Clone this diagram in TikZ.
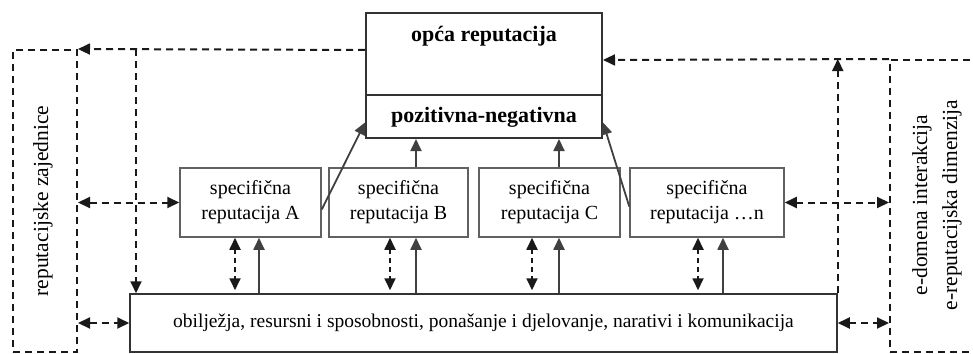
\documentclass[tikz,border=0pt]{standalone}
\usepackage{fontspec}
\setmainfont{Liberation Serif}
\usetikzlibrary{arrows.meta,calc}
\begin{document}
\begin{tikzpicture}[x=1pt,y=-1pt,
  box/.style={draw=black!62,line width=1.5pt,inner sep=0pt,align=center,
    font=\fontsize{20}{25}\selectfont},
  topbox/.style={draw=black!80,line width=2pt,inner sep=0pt},
  dbox/.style={draw=black!90,line width=2pt,dash pattern=on 7pt off 5pt,inner sep=0pt},
  dline/.style={draw=black!90,line width=2pt,dash pattern=on 7pt off 5pt},
  tip/.style={-{Triangle[length=12pt,width=11pt]}},
  dtip/.style={{Triangle[length=12pt,width=11pt]}-{Triangle[length=12pt,width=11pt]}},
  sarrow/.style={draw=black!75,line width=1.8pt,-{Triangle[length=12pt,width=11pt]}},
  lbl/.style={font=\fontsize{21.5}{30}\selectfont,align=center,inner sep=0pt},
  bold/.style={font=\fontsize{22}{24}\selectfont\bfseries,inner sep=0pt}
]
\useasboundingbox (0,0) rectangle (973,353);

% side dashed boxes
\node[dbox,minimum width=64pt,minimum height=302pt] (L) at (45,201) {};
\node[lbl,rotate=90] (Lt) at (43,201) {reputacijske zajednice};
\node[dbox,minimum width=92pt,minimum height=292pt] (R) at (936,206) {};
\node[lbl,rotate=90] (Rt) at (937,205) {e-domena interakcija\\e-reputacijska dimenzija};

% top box
\node[topbox,minimum width=236pt,minimum height=82pt] (top) at (484,54) {};
\node[bold] (topt) at (484,36) {opća reputacija};
\node[topbox,minimum width=236pt,minimum height=43pt] (pn) at (484,116.5) {};
\node[bold] (pnt) at (484,117) {pozitivna-negativna};

% specific boxes
\node[box,minimum width=141pt,minimum height=69pt] (A) at (250.5,202.5) {specifična\\reputacija A};
\node[box,minimum width=139pt,minimum height=69pt] (B) at (398.5,202.5) {specifična\\reputacija B};
\node[box,minimum width=141pt,minimum height=69pt] (C) at (549.5,202.5) {specifična\\reputacija C};
\node[box,minimum width=154pt,minimum height=69pt] (N) at (707,202.5) {specifična\\reputacija …n};

% bottom box
\node[box,draw=black!80,font=\fontsize{19.5}{25}\selectfont,minimum width=707pt,minimum height=58pt] (bot) at (483.5,323) {obilježja, resursni i sposobnosti, ponašanje i djelovanje, narativi i komunikacija};

% x positions of vertical links
\coordinate (xv) at (136,0);
\coordinate (xa1) at (235,0);  \coordinate (xa2) at (259,0);
\coordinate (xb1) at (390,0);  \coordinate (xb2) at (416,0);
\coordinate (xc1) at (532,0);  \coordinate (xc2) at (559,0);
\coordinate (xn1) at (698,0);  \coordinate (xn2) at (723,0);

% top dashed links
\draw[dline,tip] ([yshift=4pt]top.west) -- (L.north east);
\draw[dline,tip] (xv |- L.north) -- (xv |- bot.north);
\draw[dline,tip] (R.north west) -- ([yshift=-6pt]top.east);
\draw[dline,tip] (bot.north east) -- (bot.north east |- R.north);

% horizontal double links
\draw[dline,dtip] (L.east |- A.west) -- (A.west);
\draw[dline,dtip] (N.east) -- (R.west |- N.east);
\draw[dline,dtip] (L.east |- bot.west) -- (bot.west);
\draw[dline,dtip] (bot.east) -- (R.west |- bot.east);

% links to pozitivna-negativna
\draw[sarrow] ([yshift=-7pt]A.east) -- ([yshift=-6pt]pn.west);
\draw[sarrow] ([yshift=-4pt]N.west) -- ([yshift=-6pt]pn.east);
\draw[sarrow] (xb2 |- B.north) -- (xb2 |- pn.south);
\draw[sarrow] (xc2 |- C.north) -- (xc2 |- pn.south);

% links between specific boxes and bottom box
\draw[dline,dtip,line width=1.8pt,dash pattern=on 5pt off 4pt] (xa1 |- A.south) -- ([yshift=3pt]xa1 |- bot.north);
\draw[dline,dtip,line width=1.8pt,dash pattern=on 5pt off 4pt] (xb1 |- B.south) -- ([yshift=3pt]xb1 |- bot.north);
\draw[dline,dtip,line width=1.8pt,dash pattern=on 5pt off 4pt] (xc1 |- C.south) -- ([yshift=3pt]xc1 |- bot.north);
\draw[dline,dtip,line width=1.8pt,dash pattern=on 5pt off 4pt] (xn1 |- N.south) -- ([yshift=3pt]xn1 |- bot.north);
\draw[sarrow] (xa2 |- bot.north) -- (xa2 |- A.south);
\draw[sarrow] (xb2 |- bot.north) -- (xb2 |- B.south);
\draw[sarrow] (xc2 |- bot.north) -- (xc2 |- C.south);
\draw[sarrow] (xn2 |- bot.north) -- (xn2 |- N.south);
\end{tikzpicture}
\end{document}
